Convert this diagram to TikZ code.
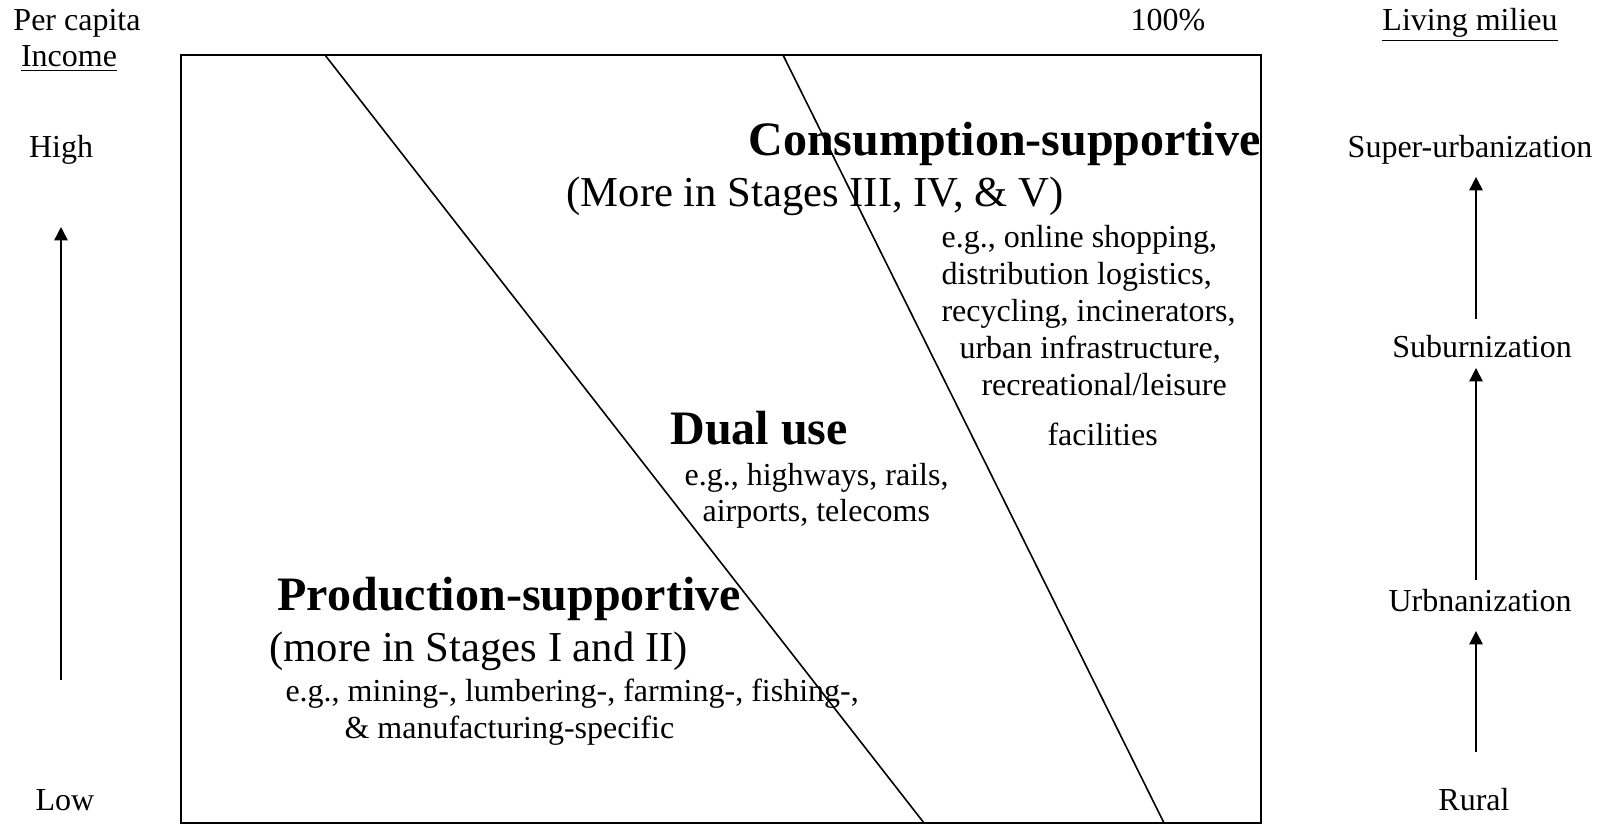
\documentclass[tikz,border=0pt]{standalone}
\usepackage{fontspec}
\setmainfont{Liberation Serif}
\usetikzlibrary{arrows.meta}

\begin{document}
\begin{tikzpicture}[x=0.375pt, y=-0.375pt, >={Triangle[length=5pt,width=5pt]},
  txt/.style={inner sep=0pt, font=\fontsize{12}{14}\selectfont, text height=0.7em, text depth=0.25em},
  subtxt/.style={txt, font=\fontsize{16}{19}\selectfont},
  headtxt/.style={txt, font=\fontsize{18}{21}\selectfont\bfseries}]
  \useasboundingbox (0,0) rectangle (1604,824);

  % frame and the two dividing lines
  \coordinate (tl) at (181,55);
  \coordinate (br) at (1261,823);
  \draw[line width=0.8pt] (tl) rectangle (br);
  \coordinate (d1t) at (325,55);
  \coordinate (d1b) at (924,823);
  \coordinate (d2t) at (783,55);
  \coordinate (d2b) at (1164,823);
  \draw[line width=0.6pt] (d1t) -- (d1b);
  \draw[line width=0.6pt] (d2t) -- (d2b);

  % left axis
  \node[txt] (percap) at (77,24) {Per capita};
  \node[txt] (income) at (69,60) {\underline{Income}};
  \node[txt] (high) at (61,151) {High};
  \node[txt] (low) at (65,804) {Low};
  \coordinate (inc0) at (61,680);
  \coordinate (inc1) at (61,227);
  \draw[->, line width=0.6pt] (inc0) -- (inc1);

  \node[txt] (full) at (1168,24) {100\%};

  % right axis
  \node[txt] (milieu) at (1470,24) {\underline{Living milieu}};
  \node[txt] (superurb) at (1470,151) {Super-urbanization};
  \node[txt] (suburb) at (1482,351) {Suburnization};
  \node[txt] (urb) at (1480,605) {Urbnanization};
  \node[txt] (rural) at (1474,804) {Rural};
  \coordinate (m0) at (1476,752);
  \coordinate (m1) at (1476,631);
  \coordinate (m2) at (1476,580);
  \coordinate (m3) at (1476,368);
  \coordinate (m4) at (1476,319);
  \coordinate (m5) at (1476,177);
  \draw[->, line width=0.6pt] (m0) -- (m1);
  \draw[->, line width=0.6pt] (m2) -- (m3);
  \draw[->, line width=0.6pt] (m4) -- (m5);

  % consumption side
  \node[headtxt, anchor=west] (cons) at (748,149) {Consumption-supportive};
  \node[subtxt, anchor=west] (consst) at (566,200) {(More in Stages III, IV, \& V)};
  \node[txt, anchor=west] (c1) at (941,241) {e.g., online shopping,};
  \node[txt, anchor=west] (c2) at (941,278) {distribution logistics,};
  \node[txt, anchor=west] (c3) at (941,315) {recycling, incinerators,};
  \node[txt, anchor=west] (c4) at (959,352) {urban infrastructure,};
  \node[txt, anchor=west] (c5) at (981,389) {recreational/leisure};
  \node[txt, anchor=west] (c6) at (1047,439) {facilities};

  % dual use
  \node[headtxt, anchor=west] (dual) at (670,438) {Dual use};
  \node[txt, anchor=west] (d1) at (684,479) {e.g., highways, rails,};
  \node[txt, anchor=west] (d2) at (702,515) {airports, telecoms};

  % production side
  \node[headtxt, anchor=west] (prod) at (277,604) {Production-supportive};
  \node[subtxt, anchor=west] (prodst) at (269,655) {(more in Stages I and II)};
  \node[txt, anchor=west] (p1) at (285,695) {e.g., mining-, lumbering-, farming-, fishing-,};
  \node[txt, anchor=west] (p2) at (344,732) {\& manufacturing-specific};
\end{tikzpicture}
\end{document}
